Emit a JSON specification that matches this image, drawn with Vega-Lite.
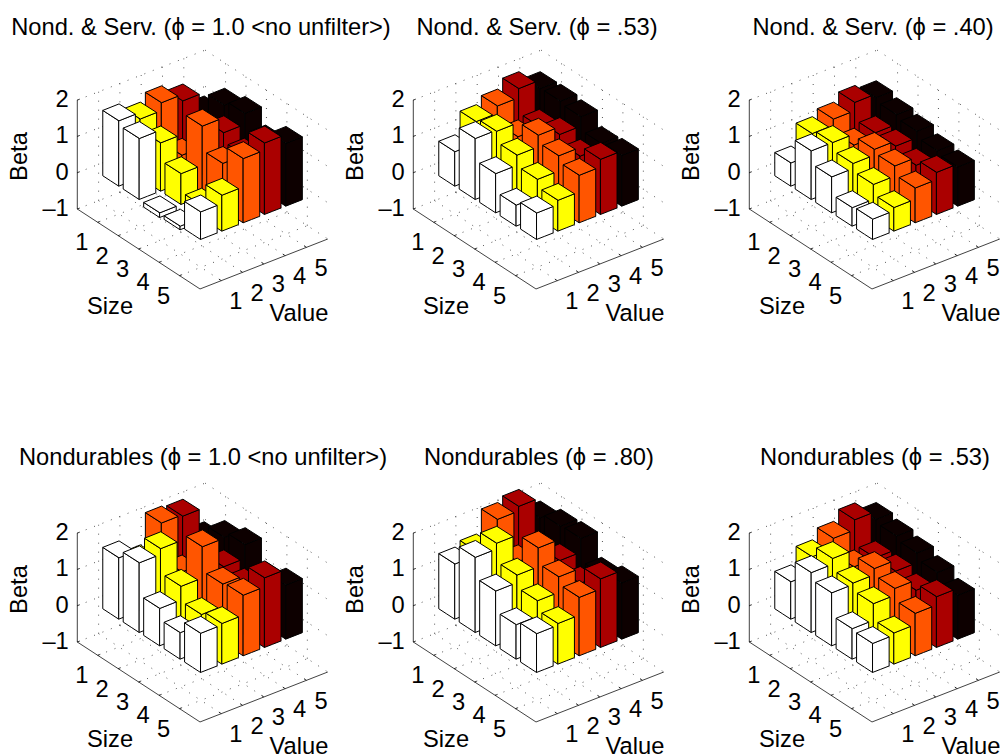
{"$schema":"https://vega.github.io/schema/vega-lite/v6.json","padding":0,"background":"white","config":{"view":{"stroke":null},"text":{"font":"Liberation Sans","fontSize":23.7,"color":"#000"},"header":{"labels":false,"title":null,"labelFontSize":0,"labelPadding":0,"titlePadding":0},"headerFacet":{"labels":false,"title":null,"labelFontSize":0,"labelPadding":0,"titlePadding":0}},
"datasets":{"segments":[
{"k":"g","a":1,"b":0,"c":-1,"d":1,"e":6,"f":-1},{"k":"g","a":2,"b":0,"c":-1,"d":2,"e":6,"f":-1},{"k":"g","a":3,"b":0,"c":-1,"d":3,"e":6,"f":-1},{"k":"g","a":4,"b":0,"c":-1,"d":4,"e":6,"f":-1},{"k":"g","a":5,"b":0,"c":-1,"d":5,"e":6,"f":-1},
{"k":"g","a":0,"b":1,"c":-1,"d":6,"e":1,"f":-1},{"k":"g","a":0,"b":2,"c":-1,"d":6,"e":2,"f":-1},{"k":"g","a":0,"b":3,"c":-1,"d":6,"e":3,"f":-1},{"k":"g","a":0,"b":4,"c":-1,"d":6,"e":4,"f":-1},{"k":"g","a":0,"b":5,"c":-1,"d":6,"e":5,"f":-1},
{"k":"g","a":0,"b":0,"c":-1,"d":0,"e":6,"f":-1},{"k":"g","a":0,"b":0,"c":0,"d":0,"e":6,"f":0},{"k":"g","a":0,"b":0,"c":1,"d":0,"e":6,"f":1},{"k":"g","a":0,"b":0,"c":2,"d":0,"e":6,"f":2},
{"k":"g","a":0,"b":6,"c":-1,"d":6,"e":6,"f":-1},{"k":"g","a":0,"b":6,"c":0,"d":6,"e":6,"f":0},{"k":"g","a":0,"b":6,"c":1,"d":6,"e":6,"f":1},{"k":"g","a":0,"b":6,"c":2,"d":6,"e":6,"f":2},
{"k":"g","a":0,"b":1,"c":-1,"d":0,"e":1,"f":2},{"k":"g","a":0,"b":2,"c":-1,"d":0,"e":2,"f":2},{"k":"g","a":0,"b":3,"c":-1,"d":0,"e":3,"f":2},{"k":"g","a":0,"b":4,"c":-1,"d":0,"e":4,"f":2},{"k":"g","a":0,"b":5,"c":-1,"d":0,"e":5,"f":2},
{"k":"g","a":1,"b":6,"c":-1,"d":1,"e":6,"f":2},{"k":"g","a":2,"b":6,"c":-1,"d":2,"e":6,"f":2},{"k":"g","a":3,"b":6,"c":-1,"d":3,"e":6,"f":2},{"k":"g","a":4,"b":6,"c":-1,"d":4,"e":6,"f":2},{"k":"g","a":5,"b":6,"c":-1,"d":5,"e":6,"f":2},
{"k":"a","a":0,"b":0,"c":-1,"d":0,"e":0,"f":2},{"k":"a","a":0,"b":0,"c":-1,"d":6,"e":0,"f":-1},{"k":"a","a":6,"b":0,"c":-1,"d":6,"e":6,"f":-1},
{"k":"a","a":1,"b":0,"c":-1,"d":1,"e":0.12,"f":-1},{"k":"a","a":2,"b":0,"c":-1,"d":2,"e":0.12,"f":-1},{"k":"a","a":3,"b":0,"c":-1,"d":3,"e":0.12,"f":-1},{"k":"a","a":4,"b":0,"c":-1,"d":4,"e":0.12,"f":-1},{"k":"a","a":5,"b":0,"c":-1,"d":5,"e":0.12,"f":-1},
{"k":"a","a":6,"b":1,"c":-1,"d":5.88,"e":1,"f":-1},{"k":"a","a":6,"b":2,"c":-1,"d":5.88,"e":2,"f":-1},{"k":"a","a":6,"b":3,"c":-1,"d":5.88,"e":3,"f":-1},{"k":"a","a":6,"b":4,"c":-1,"d":5.88,"e":4,"f":-1},{"k":"a","a":6,"b":5,"c":-1,"d":5.88,"e":5,"f":-1},
{"k":"a","a":0,"b":0,"c":-1,"d":0,"e":0.12,"f":-1},{"k":"a","a":0,"b":0,"c":0,"d":0,"e":0.12,"f":0},{"k":"a","a":0,"b":0,"c":1,"d":0,"e":0.12,"f":1},{"k":"a","a":0,"b":0,"c":2,"d":0,"e":0.12,"f":2}],
"labels":[
{"ax":"S","s":1,"v":0,"z":-1,"t":"1"},{"ax":"S","s":2,"v":0,"z":-1,"t":"2"},{"ax":"S","s":3,"v":0,"z":-1,"t":"3"},{"ax":"S","s":4,"v":0,"z":-1,"t":"4"},{"ax":"S","s":5,"v":0,"z":-1,"t":"5"},
{"ax":"V","s":6,"v":1,"z":-1,"t":"1"},{"ax":"V","s":6,"v":2,"z":-1,"t":"2"},{"ax":"V","s":6,"v":3,"z":-1,"t":"3"},{"ax":"V","s":6,"v":4,"z":-1,"t":"4"},{"ax":"V","s":6,"v":5,"z":-1,"t":"5"},
{"ax":"Z","s":0,"v":0,"z":-1,"t":"–1"},{"ax":"Z","s":0,"v":0,"z":0,"t":"0"},{"ax":"Z","s":0,"v":0,"z":1,"t":"1"},{"ax":"Z","s":0,"v":0,"z":2,"t":"2"},
{"ax":"TS","s":3,"v":0,"z":-1,"t":"Size"},{"ax":"TV","s":6,"v":3,"z":-1,"t":"Value"},{"ax":"TZ","s":0,"v":0,"z":0.5,"t":"Beta"}],
"bars":[
{"p":1,"title":"Nond. & Serv. (ϕ = 1.0 <no unfilter>)"},{"p":2,"title":"Nond. & Serv. (ϕ = .53)"},{"p":3,"title":"Nond. & Serv. (ϕ = .40)"},{"p":4,"title":"Nondurables (ϕ = 1.0 <no unfilter>)"},{"p":5,"title":"Nondurables (ϕ = .80)"},{"p":6,"title":"Nondurables (ϕ = .53)"},
{"p":1,"s":1,"v":5,"y":1.1},{"p":1,"s":1,"v":4,"y":1.66},{"p":1,"s":1,"v":3,"y":1.84},{"p":1,"s":1,"v":2,"y":1.62},{"p":1,"s":1,"v":1,"y":1.8},
{"p":1,"s":2,"v":5,"y":1.68},{"p":1,"s":2,"v":4,"y":1.08},{"p":1,"s":2,"v":3,"y":0.76},{"p":1,"s":2,"v":2,"y":1.33},{"p":1,"s":2,"v":1,"y":1.68},
{"p":1,"s":3,"v":5,"y":1.82},{"p":1,"s":3,"v":4,"y":1.52},{"p":1,"s":3,"v":3,"y":1.93},{"p":1,"s":3,"v":2,"y":0.85},{"p":1,"s":3,"v":1,"y":-0.13},
{"p":1,"s":4,"v":5,"y":1.4},{"p":1,"s":4,"v":4,"y":1.27},{"p":1,"s":4,"v":3,"y":1.27},{"p":1,"s":4,"v":2,"y":0.35},{"p":1,"s":4,"v":1,"y":-0.1},
{"p":1,"s":5,"v":5,"y":1.73},{"p":1,"s":5,"v":4,"y":1.97},{"p":1,"s":5,"v":3,"y":1.77},{"p":1,"s":5,"v":2,"y":0.99},{"p":1,"s":5,"v":1,"y":0.76},
{"p":2,"s":1,"v":5,"y":1.77},{"p":2,"s":1,"v":4,"y":2.0},{"p":2,"s":1,"v":3,"y":1.75},{"p":2,"s":1,"v":2,"y":1.55},{"p":2,"s":1,"v":1,"y":0.95},
{"p":2,"s":2,"v":5,"y":1.79},{"p":2,"s":2,"v":4,"y":1.33},{"p":2,"s":2,"v":3,"y":1.27},{"p":2,"s":2,"v":2,"y":1.65},{"p":2,"s":2,"v":1,"y":1.68},
{"p":2,"s":3,"v":5,"y":1.73},{"p":2,"s":3,"v":4,"y":1.47},{"p":2,"s":3,"v":3,"y":1.68},{"p":2,"s":3,"v":2,"y":1.36},{"p":2,"s":3,"v":1,"y":1.08},
{"p":2,"s":4,"v":5,"y":1.36},{"p":2,"s":4,"v":4,"y":1.24},{"p":2,"s":4,"v":3,"y":1.48},{"p":2,"s":4,"v":2,"y":1.06},{"p":2,"s":4,"v":1,"y":0.58},
{"p":2,"s":5,"v":5,"y":1.4},{"p":2,"s":5,"v":4,"y":1.52},{"p":2,"s":5,"v":3,"y":1.31},{"p":2,"s":5,"v":2,"y":0.85},{"p":2,"s":5,"v":1,"y":0.73},
{"p":3,"s":1,"v":5,"y":1.52},{"p":3,"s":1,"v":4,"y":1.62},{"p":3,"s":1,"v":3,"y":1.39},{"p":3,"s":1,"v":2,"y":1.22},{"p":3,"s":1,"v":1,"y":0.64},
{"p":3,"s":2,"v":5,"y":1.42},{"p":3,"s":2,"v":4,"y":1.15},{"p":3,"s":2,"v":3,"y":1.04},{"p":3,"s":2,"v":2,"y":1.34},{"p":3,"s":2,"v":1,"y":1.34},
{"p":3,"s":3,"v":5,"y":1.33},{"p":3,"s":3,"v":4,"y":1.15},{"p":3,"s":3,"v":3,"y":1.29},{"p":3,"s":3,"v":2,"y":1.13},{"p":3,"s":3,"v":1,"y":0.99},
{"p":3,"s":4,"v":5,"y":1.16},{"p":3,"s":4,"v":4,"y":0.99},{"p":3,"s":4,"v":3,"y":1.2},{"p":3,"s":4,"v":2,"y":0.92},{"p":3,"s":4,"v":1,"y":0.51},
{"p":3,"s":5,"v":5,"y":1.08},{"p":3,"s":5,"v":4,"y":1.16},{"p":3,"s":5,"v":3,"y":0.96},{"p":3,"s":5,"v":2,"y":0.65},{"p":3,"s":5,"v":1,"y":0.56},
{"p":4,"s":1,"v":5,"y":1.3},{"p":4,"s":1,"v":4,"y":2.15},{"p":4,"s":1,"v":3,"y":2.19},{"p":4,"s":1,"v":2,"y":1.35},{"p":4,"s":1,"v":1,"y":1.69},
{"p":4,"s":2,"v":5,"y":1.7},{"p":4,"s":2,"v":4,"y":1.26},{"p":4,"s":2,"v":3,"y":1.21},{"p":4,"s":2,"v":2,"y":2.08},{"p":4,"s":2,"v":1,"y":1.92},
{"p":4,"s":3,"v":5,"y":1.87},{"p":4,"s":3,"v":4,"y":1.49},{"p":4,"s":3,"v":3,"y":2.27},{"p":4,"s":3,"v":2,"y":1.41},{"p":4,"s":3,"v":1,"y":1.03},
{"p":4,"s":4,"v":5,"y":1.3},{"p":4,"s":4,"v":4,"y":1.35},{"p":4,"s":4,"v":3,"y":1.61},{"p":4,"s":4,"v":2,"y":1.0},{"p":4,"s":4,"v":1,"y":0.73},
{"p":4,"s":5,"v":5,"y":1.49},{"p":4,"s":5,"v":4,"y":1.92},{"p":4,"s":5,"v":3,"y":1.67},{"p":4,"s":5,"v":2,"y":1.12},{"p":4,"s":5,"v":1,"y":1.08},
{"p":5,"s":1,"v":5,"y":1.87},{"p":5,"s":1,"v":4,"y":2.42},{"p":5,"s":1,"v":3,"y":2.29},{"p":5,"s":1,"v":2,"y":1.65},{"p":5,"s":1,"v":1,"y":1.52},
{"p":5,"s":2,"v":5,"y":2.01},{"p":5,"s":2,"v":4,"y":1.35},{"p":5,"s":2,"v":3,"y":1.49},{"p":5,"s":2,"v":2,"y":2.23},{"p":5,"s":2,"v":1,"y":2.07},
{"p":5,"s":3,"v":5,"y":2.04},{"p":5,"s":3,"v":4,"y":1.66},{"p":5,"s":3,"v":3,"y":2.24},{"p":5,"s":3,"v":2,"y":1.72},{"p":5,"s":3,"v":1,"y":1.51},
{"p":5,"s":4,"v":5,"y":1.42},{"p":5,"s":4,"v":4,"y":1.4},{"p":5,"s":4,"v":3,"y":1.81},{"p":5,"s":4,"v":2,"y":1.38},{"p":5,"s":4,"v":1,"y":0.95},
{"p":5,"s":5,"v":5,"y":1.55},{"p":5,"s":5,"v":4,"y":1.89},{"p":5,"s":5,"v":3,"y":1.61},{"p":5,"s":5,"v":2,"y":1.12},{"p":5,"s":5,"v":1,"y":1.07},
{"p":6,"s":1,"v":5,"y":1.83},{"p":6,"s":1,"v":4,"y":2.05},{"p":6,"s":1,"v":3,"y":1.77},{"p":6,"s":1,"v":2,"y":1.49},{"p":6,"s":1,"v":1,"y":1.03},
{"p":6,"s":2,"v":5,"y":1.74},{"p":6,"s":2,"v":4,"y":1.37},{"p":6,"s":2,"v":3,"y":1.35},{"p":6,"s":2,"v":2,"y":1.81},{"p":6,"s":2,"v":1,"y":1.65},
{"p":6,"s":3,"v":5,"y":1.64},{"p":6,"s":3,"v":4,"y":1.37},{"p":6,"s":3,"v":3,"y":1.67},{"p":6,"s":3,"v":2,"y":1.5},{"p":6,"s":3,"v":1,"y":1.46},
{"p":6,"s":4,"v":5,"y":1.47},{"p":6,"s":4,"v":4,"y":1.21},{"p":6,"s":4,"v":3,"y":1.49},{"p":6,"s":4,"v":2,"y":1.3},{"p":6,"s":4,"v":1,"y":0.84},
{"p":6,"s":5,"v":5,"y":1.21},{"p":6,"s":5,"v":4,"y":1.4},{"p":6,"s":5,"v":3,"y":1.17},{"p":6,"s":5,"v":2,"y":0.86},{"p":6,"s":5,"v":1,"y":0.8}]},
"data":{"name":"bars"},
"columns":3,"spacing":{"row":111,"column":5},"bounds":"flush",
"facet":{"field":"p","type":"ordinal","title":null,"header":{"title":null,"labels":false,"labelFontSize":0,"labelPadding":0,"titlePadding":0,"labelExpr":"''"}},
"spec":{"width":331,"height":322,
"encoding":{"x":{"field":"px","type":"quantitative","axis":null,"scale":{"domain":[0,331],"nice":false,"zero":false}},"y":{"field":"py","type":"quantitative","axis":null,"stack":null,"scale":{"domain":[322,0],"nice":false,"zero":false}}},
"layer":[
{"data":{"name":"segments"},"transform":[{"filter":"datum.k=='g'"},{"calculate":"77.3+20.45*datum.a+21.3*datum.b","as":"px"},{"calculate":"172.7+13.33*datum.a-8.33*datum.b-36.3*datum.c","as":"py"},{"calculate":"77.3+20.45*datum.d+21.3*datum.e","as":"px2"},{"calculate":"172.7+13.33*datum.d-8.33*datum.e-36.3*datum.f","as":"py2"}],"mark":{"type":"rule","color":"#444","strokeWidth":0.9,"strokeDash":[1,8]},"encoding":{"x2":{"field":"px2"},"y2":{"field":"py2"}}},
{"data":{"name":"segments"},"transform":[{"filter":"datum.k=='a'"},{"calculate":"77.3+20.45*datum.a+21.3*datum.b","as":"px"},{"calculate":"172.7+13.33*datum.a-8.33*datum.b-36.3*datum.c","as":"py"},{"calculate":"77.3+20.45*datum.d+21.3*datum.e","as":"px2"},{"calculate":"172.7+13.33*datum.d-8.33*datum.e-36.3*datum.f","as":"py2"}],"mark":{"type":"rule","color":"#111","strokeWidth":0.8},"encoding":{"x2":{"field":"px2"},"y2":{"field":"py2"}}},
{"transform":[{"filter":"isValid(datum.y)"},{"calculate":"['L','R','T']","as":"face"},{"flatten":["face"]},{"calculate":"[0,1,2]","as":"pt"},{"flatten":["pt"]},
{"calculate":"datum.face=='R'?0.39:(datum.pt-1)*0.39","as":"ds"},{"calculate":"datum.face=='L'?-0.39:(datum.pt-1)*0.39","as":"dv"},
{"calculate":"(datum.face=='T'&&datum.pt==1)?8.45:0","as":"hs"},
{"calculate":"77.3+20.45*(datum.s+datum.ds)+21.3*(datum.v+datum.dv)","as":"px"},
{"calculate":"172.7+13.33*(datum.s+datum.ds)-8.33*(datum.v+datum.dv)","as":"base"},
{"calculate":"datum.base-36.3*max(datum.y,0)-datum.hs","as":"py"},
{"calculate":"datum.face=='T'?datum.base-36.3*max(datum.y,0)+datum.hs:datum.base-36.3*min(datum.y,0)","as":"py2"},
{"calculate":"datum.s+'-'+datum.v+datum.face","as":"key"}],
"mark":{"type":"area","stroke":"#000","strokeWidth":1,"interpolate":"linear","opacity":1},
"encoding":{"y2":{"field":"py2"},"detail":{"field":"key"},"fill":{"field":"v","type":"ordinal","legend":null,"scale":{"domain":[1,2,3,4,5],"range":["#ffffff","#ffff00","#ff5500","#aa0000","#0d0000"]}}}},
{"transform":[{"filter":"isValid(datum.title)"},{"calculate":"datum.p<4?201:203","as":"px"},{"calculate":"datum.p<4?28:25","as":"py"}],"mark":{"type":"text","align":"center","baseline":"middle"},"encoding":{"text":{"field":"title"}}},
{"data":{"name":"labels"},"transform":[{"filter":"datum.ax=='S'"},{"calculate":"77.3+20.45*datum.s+21.3*datum.v","as":"px"},{"calculate":"172.7+13.33*datum.s-8.33*datum.v-36.3*datum.z","as":"py"}],"mark":{"type":"text","align":"center","baseline":"middle","dx":-16,"dy":21},"encoding":{"text":{"field":"t"}}},
{"data":{"name":"labels"},"transform":[{"filter":"datum.ax=='V'"},{"calculate":"77.3+20.45*datum.s+21.3*datum.v","as":"px"},{"calculate":"172.7+13.33*datum.s-8.33*datum.v-36.3*datum.z","as":"py"}],"mark":{"type":"text","align":"center","baseline":"middle","dx":14.5,"dy":21.5},"encoding":{"text":{"field":"t"}}},
{"data":{"name":"labels"},"transform":[{"filter":"datum.ax=='Z'"},{"calculate":"77.3+20.45*datum.s+21.3*datum.v","as":"px"},{"calculate":"172.7+13.33*datum.s-8.33*datum.v-36.3*datum.z","as":"py"}],"mark":{"type":"text","align":"right","baseline":"middle","dx":-8.5},"encoding":{"text":{"field":"t"}}},
{"data":{"name":"labels"},"transform":[{"filter":"datum.ax=='TS'"},{"calculate":"77.3+20.45*datum.s+21.3*datum.v","as":"px"},{"calculate":"172.7+13.33*datum.s-8.33*datum.v-36.3*datum.z","as":"py"}],"mark":{"type":"text","align":"center","baseline":"middle","dx":-28.6,"dy":58},"encoding":{"text":{"field":"t"}}},
{"data":{"name":"labels"},"transform":[{"filter":"datum.ax=='TV'"},{"calculate":"77.3+20.45*datum.s+21.3*datum.v","as":"px"},{"calculate":"172.7+13.33*datum.s-8.33*datum.v-36.3*datum.z","as":"py"}],"mark":{"type":"text","align":"center","baseline":"middle","dx":35,"dy":50},"encoding":{"text":{"field":"t"}}},
{"data":{"name":"labels"},"transform":[{"filter":"datum.ax=='TZ'"},{"calculate":"77.3+20.45*datum.s+21.3*datum.v-57","as":"px"},{"calculate":"172.7+13.33*datum.s-8.33*datum.v-36.3*datum.z+2","as":"py"}],"mark":{"type":"text","align":"center","baseline":"middle","angle":270},"encoding":{"text":{"field":"t"}}}
]}}
